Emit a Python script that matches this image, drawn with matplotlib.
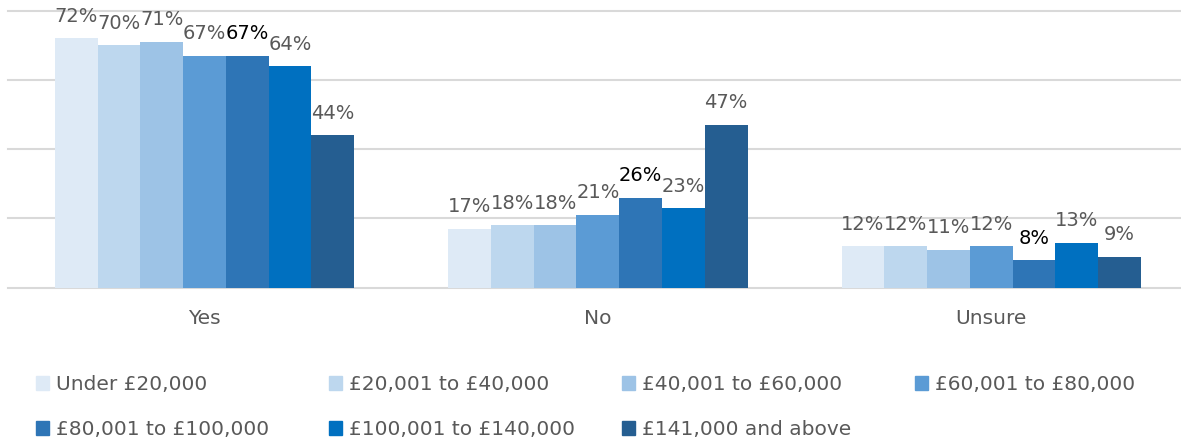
import matplotlib.pyplot as plt
from matplotlib.patches import Rectangle
import numpy as np

# Відповіді за рівнем доходу
categories = ['Yes', 'No', 'Unsure']
income_groups = ['Under £20,000', '£20,001 to £40,000', '£40,001 to £60,000', '£60,001 to £80,000',
                 '£80,001 to £100,000', '£100,001 to £140,000', '£141,000 and above']
under_20k = [72, 17, 12]
from_20k_to_40k = [70, 18, 12]
from_40k_to_60k = [71, 18, 11]
from_60k_to_80k = [67, 21, 12]
from_80k_to_100k = [67, 26, 8]
from_100k_to_140k = [64, 23, 13]
above_141k = [44, 47, 9]

values = [under_20k, from_20k_to_40k, from_40k_to_60k, from_60k_to_80k,
          from_80k_to_100k, from_100k_to_140k, above_141k]
colors = ['#DEEAF6', '#BDD7EE', '#9DC3E6', '#5B9BD5', '#2E75B6', '#0070C0', '#255E91']
label_colors = ['#595959', '#595959', '#595959', '#595959', '#000000', '#595959', '#595959']

plt.rcParams['font.family'] = ['DejaVu Sans']

W, H = 1181, 442
fig = plt.figure(figsize=(W / 100, H / 100), dpi=100)
ax = fig.add_axes([7.7 / W, (H - 287.7) / H, (1188 - 7.7) / W, 277 / H])

x = np.arange(len(categories))
bar_w = 0.1087
n = len(values)

for i, (vals, color) in enumerate(zip(values, colors)):
    pos = x + (i - (n - 1) / 2) * bar_w
    bars = ax.bar(pos, vals, width=bar_w, color=color, linewidth=0, zorder=2)
    for b, v in zip(bars, vals):
        ax.annotate(f'{v}%', (b.get_x() + b.get_width() / 2, v), xytext=(0, 9),
                    textcoords='offset points', ha='center', va='bottom',
                    fontsize=14, color=label_colors[i], zorder=3)

ax.set_xlim(-0.5, 2.5)
ax.set_ylim(0, 80)
ax.set_yticks([0, 20, 40, 60, 80])
ax.set_yticklabels([])
ax.set_xticks(x)
ax.set_xticklabels(categories, fontsize=14.5, color='#595959')
ax.tick_params(axis='both', length=0)
ax.tick_params(axis='x', pad=15.5)
ax.grid(axis='y', color='#D9D9D9', linewidth=1.5, clip_on=False, zorder=0)
ax.set_axisbelow(True)
for s in ax.spines.values():
    s.set_visible(False)

# Легенда: 4 колонки однакової ширини, заповнення по рядках
handles = [Rectangle((0, 0), 1, 1, color=c) for c in colors]
col_x = [36, 329, 622, 915]
for c in range(4):
    idx = [j for j in (c, c + 4) if j < n]
    fig.legend([handles[j] for j in idx], [income_groups[j] for j in idx],
               loc='upper left', bbox_to_anchor=(col_x[c] / W, 1 - 375 / H),
               frameon=False, fontsize=14.5, labelcolor='#595959',
               handlelength=0.65, handleheight=0.65, handletextpad=0.35,
               labelspacing=1.3, borderpad=0, borderaxespad=0)

plt.savefig('out.png', dpi=100)
